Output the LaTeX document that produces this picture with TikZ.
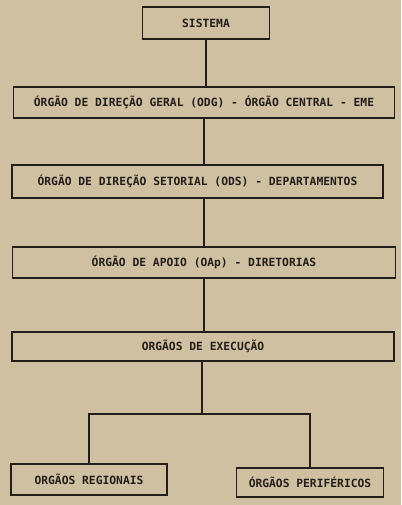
\documentclass[tikz,border=0pt]{standalone}
\usepackage{fontspec}
\setmonofont{DejaVu Sans Mono}
\usepackage{tikz}
\definecolor{paper}{RGB}{207,192,162}
\definecolor{ink}{RGB}{35,30,25}
\tikzset{orgbox/.style={draw=ink,line width=1.6pt,text=ink,inner sep=0pt,
  font=\ttfamily\bfseries\fontsize{11.3}{13}\selectfont},
  orgline/.style={ink,line width=1.8pt}}
\begin{document}
\begin{tikzpicture}[x=1pt,y=-1pt]
\fill[paper] (0,0) rectangle (401,505);
\useasboundingbox (0,0) rectangle (401,505);
\node[orgbox,minimum width=127pt,minimum height=32pt] (sis) at (206,23) {SISTEMA};
\node[orgbox,minimum width=381pt,minimum height=31pt] (odg) at (204,102.5) {ÓRGÃO DE DIREÇÃO GERAL (ODG) - ÓRGÃO CENTRAL - EME};
\node[orgbox,minimum width=371pt,minimum height=33pt] (ods) at (197.5,181.5) {ÓRGÃO DE DIREÇÃO SETORIAL (ODS) - DEPARTAMENTOS};
\node[orgbox,minimum width=383pt,minimum height=31pt] (oap) at (204,262.5) {ÓRGÃO DE APOIO (OAp) - DIRETORIAS};
\node[orgbox,minimum width=382pt,minimum height=29pt] (exe) at (203,346.5) {ORGÃOS DE EXECUÇÃO};
\node[orgbox,minimum width=156pt,minimum height=31pt] (reg) at (89,479.5) {ORGÃOS REGIONAIS};
\node[orgbox,minimum width=147pt,minimum height=29pt] (per) at (310,482.5) {ÓRGÃOS PERIFÉRICOS};
\coordinate (br) at (202,414);
\draw[orgline] (sis.south) -- (sis.south |- odg.north);
\draw[orgline] (odg.south) -- (odg.south |- ods.north);
\draw[orgline] (oap.north |- ods.south) -- (oap.north);
\draw[orgline] (oap.south) -- (oap.south |- exe.north);
\draw[orgline] (br |- exe.south) -- (br);
\draw[orgline] (reg.north) -- (reg.north |- br) -| (per.north);
\end{tikzpicture}
\end{document}
